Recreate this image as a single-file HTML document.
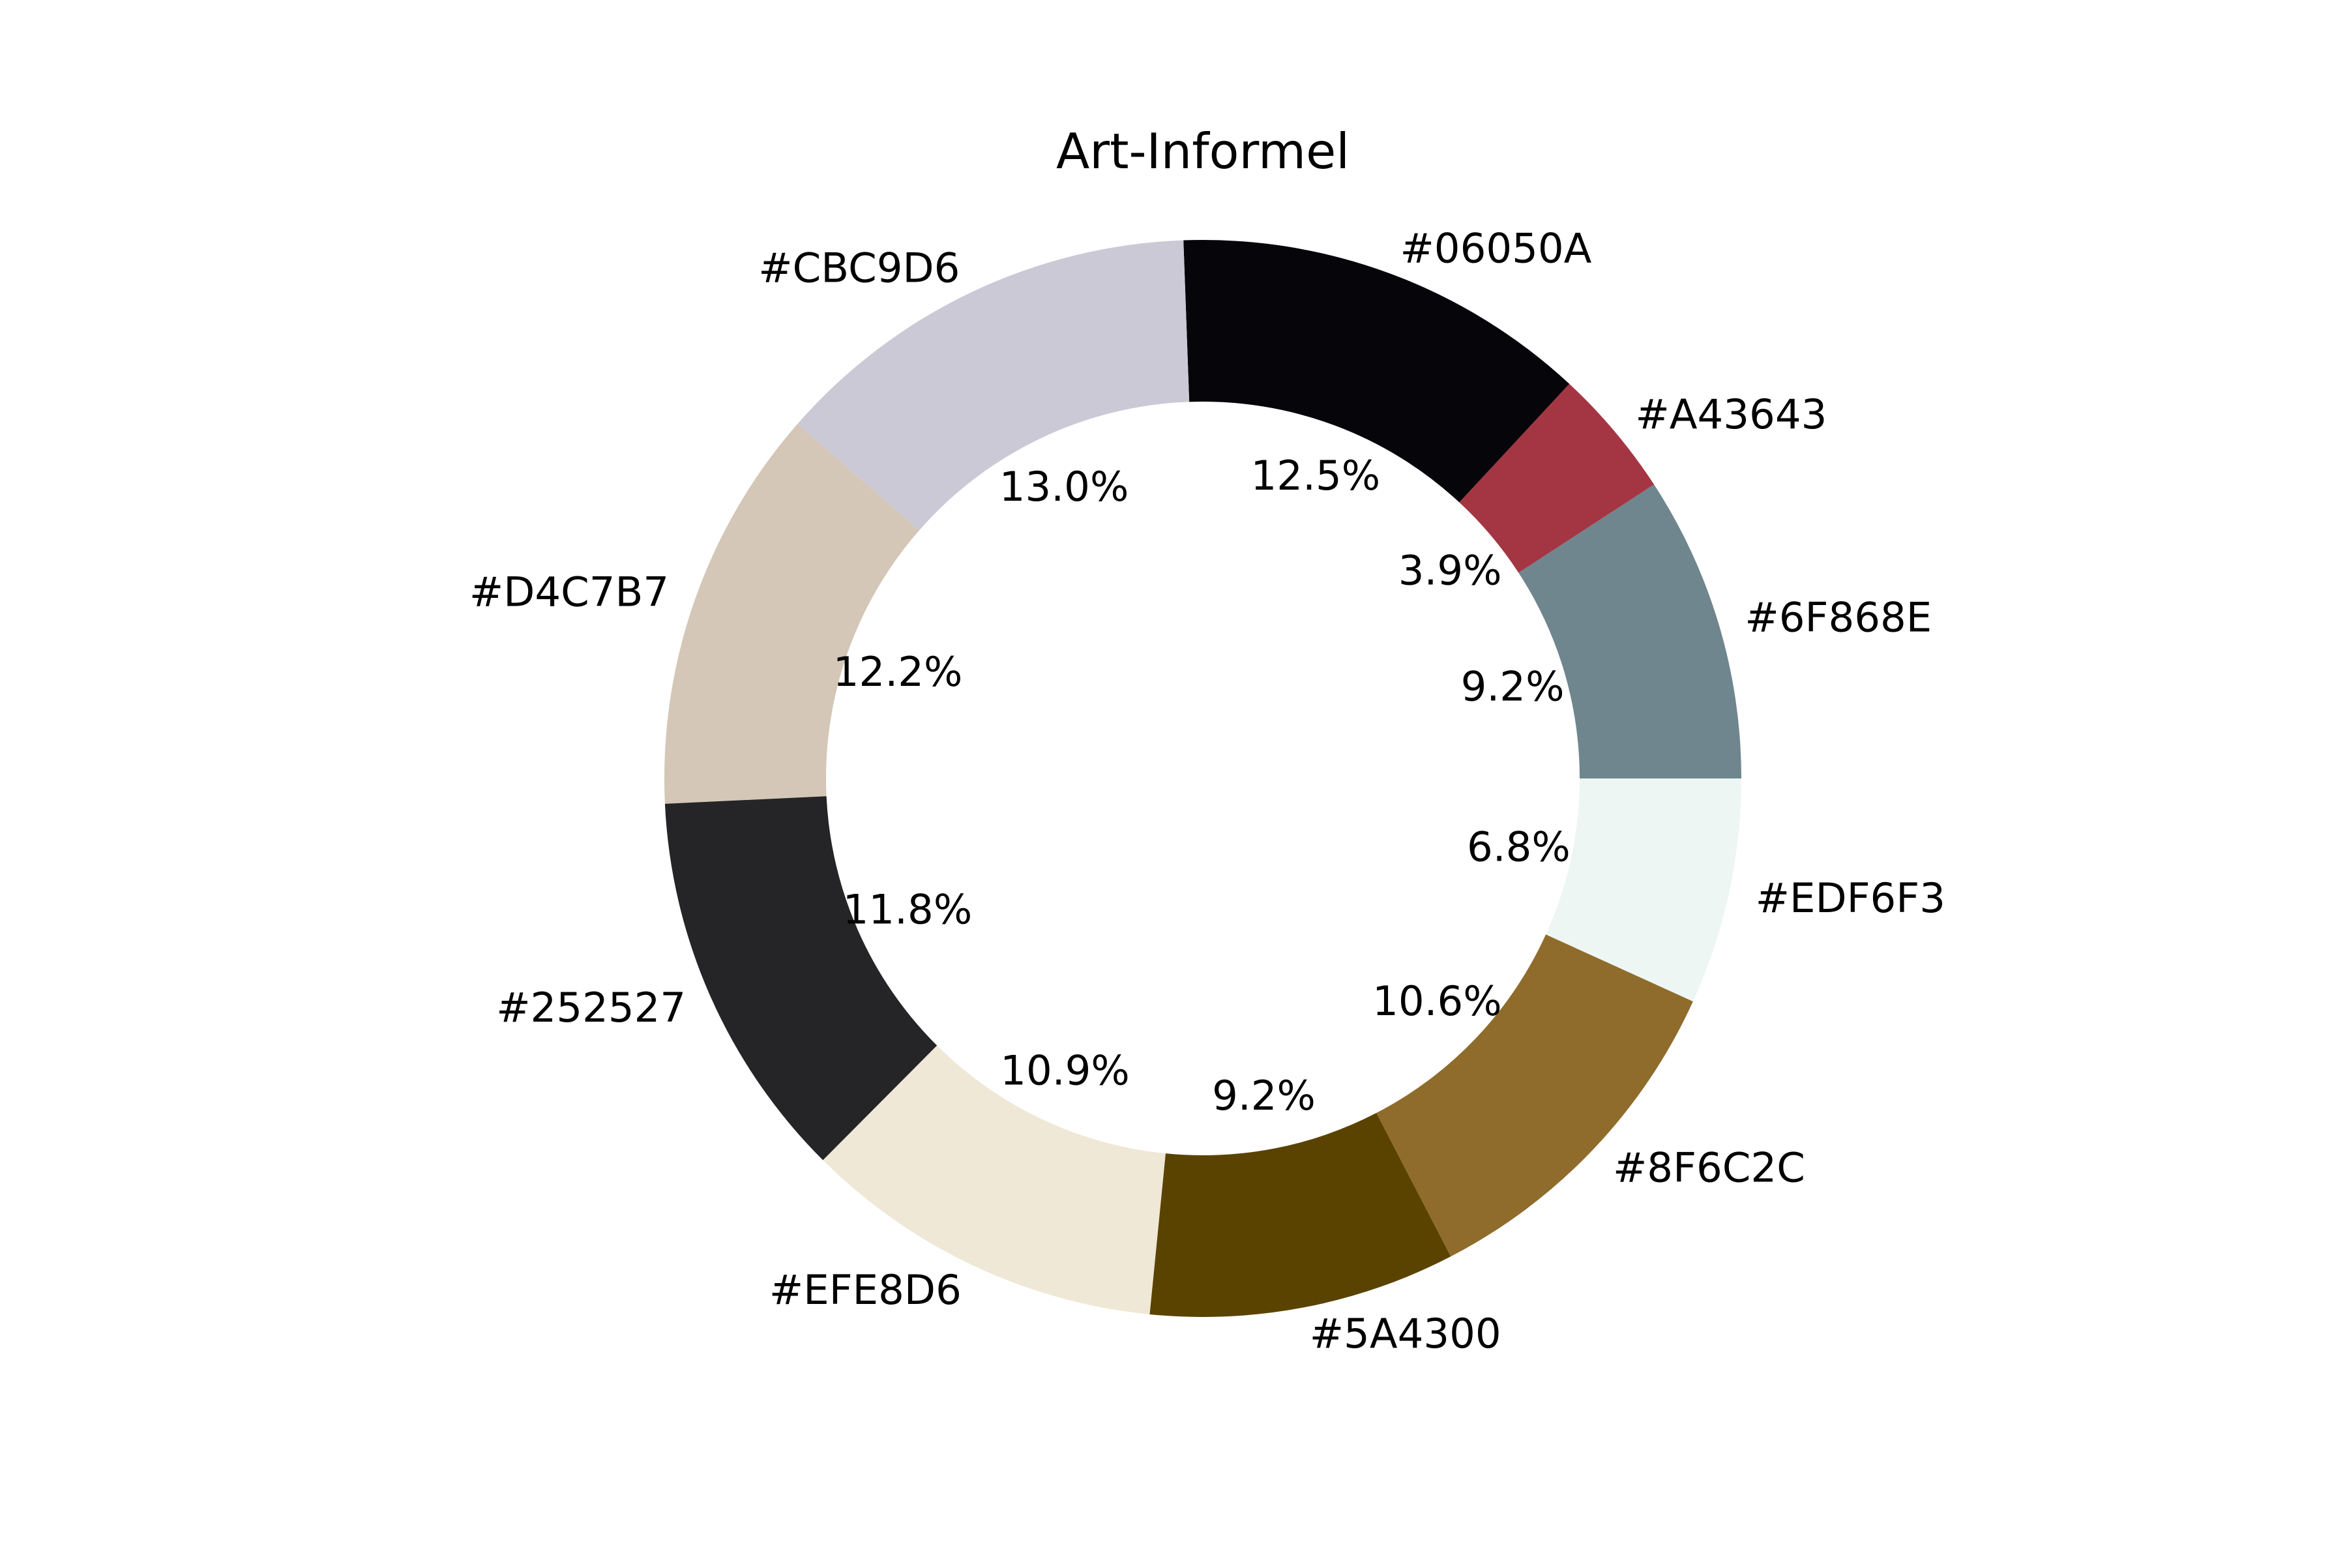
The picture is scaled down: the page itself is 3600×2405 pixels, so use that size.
<!DOCTYPE html>
<html><head><meta charset="utf-8"><style>
body{margin:0;background:#fff}
text{font-family:"DejaVu Sans","Liberation Sans",sans-serif}
</style></head><body>
<svg id="chart" width="3600" height="2400" viewBox="0 0 3600 2400" xmlns="http://www.w3.org/2000/svg">
<rect width="3600" height="2400" fill="#fff"/>
<text x="1845" y="258" font-size="75" text-anchor="middle">Art-Informel</text>
<g id="slices"></g>
<g id="labels"></g>
</svg>
<script>
const categories = ["#6F868E","#A43643","#06050A","#CBC9D6","#D4C7B7","#252527","#EFE8D6","#5A4300","#8F6C2C","#EDF6F3"];
const values = [9.2,3.9,12.5,13.0,12.2,11.8,10.9,9.2,10.6,6.8];
const colors = ["#6F868E","#A43643","#06050A","#CBC9D6","#D4C7B7","#252527","#EFE8D6","#5A4300","#8F6C2C","#EDF6F3"];
const pctLabels = ["9.2%","3.9%","12.5%","13.0%","12.2%","11.8%","10.9%","9.2%","10.6%","6.8%"];

const cx=1845, cy=1194, R=826, r=578;
const NS="http://www.w3.org/2000/svg";
const total=values.reduce((a,b)=>a+b,0);
function pt(rad,ang){return [cx+rad*Math.cos(ang), cy-rad*Math.sin(ang)];}
const gS=document.getElementById('slices'), gL=document.getElementById('labels');
let a0=0;
values.forEach((v,i)=>{
  const a1=a0+v/total*2*Math.PI;
  const large=(a1-a0)>Math.PI?1:0;
  const p1=pt(R,a0),p2=pt(R,a1),p3=pt(r,a1),p4=pt(r,a0);
  const d=`M${p1[0]},${p1[1]} A${R},${R} 0 ${large} 0 ${p2[0]},${p2[1]} L${p3[0]},${p3[1]} A${r},${r} 0 ${large} 1 ${p4[0]},${p4[1]} Z`;
  const path=document.createElementNS(NS,'path');
  path.setAttribute('d',d);
  path.setAttribute('fill',colors[i]);
  
  
  gS.appendChild(path);
  const mid=(a0+a1)/2;
  const lp=pt(R*1.05,mid);
  const t=document.createElementNS(NS,'text');
  t.setAttribute('x',lp[0]);t.setAttribute('y',lp[1]);
  t.setAttribute('font-size','62.5');
  t.setAttribute('dominant-baseline','central');
  t.setAttribute('text-anchor',Math.cos(mid)>=0?'start':'end');
  t.textContent=categories[i];
  
  
  gL.appendChild(t);
  const pp=pt(R*0.6,mid);
  const t2=document.createElementNS(NS,'text');
  t2.setAttribute('x',pp[0]);t2.setAttribute('y',pp[1]);
  t2.setAttribute('font-size','62.5');
  t2.setAttribute('dominant-baseline','central');
  t2.setAttribute('text-anchor','middle');
  t2.textContent=pctLabels[i];
  
  
  gL.appendChild(t2);
  a0=a1;
});
</script>
</body></html>
